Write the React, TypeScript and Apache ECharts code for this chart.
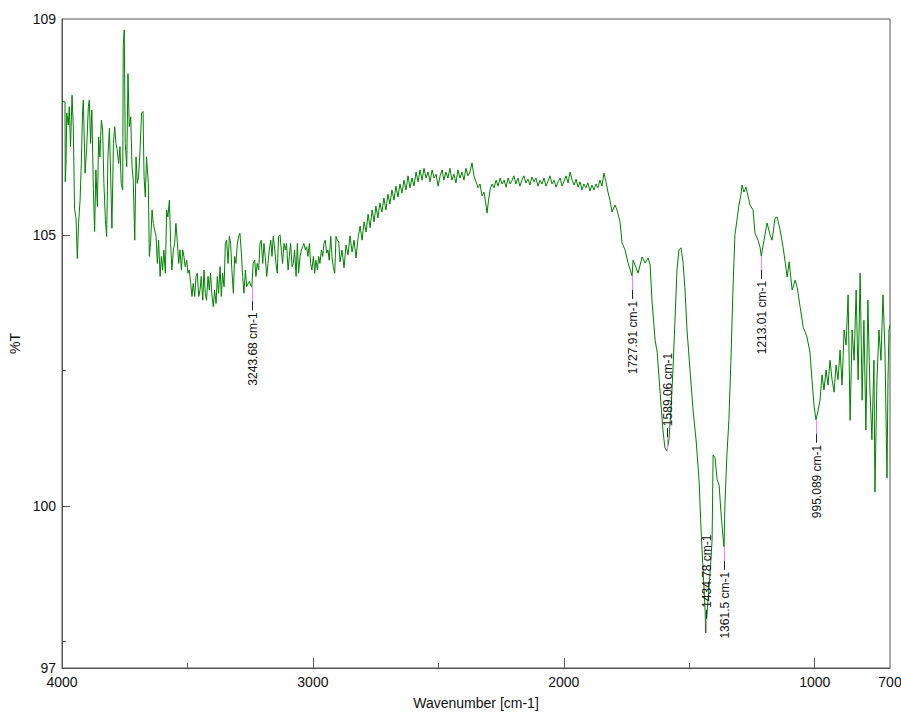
import { useEffect, useRef } from "react";
import * as echarts from "echarts";

const FONT = "'Liberation Sans', Arial, sans-serif";

const xTickLabels = [4000, 3000, 2000, 1000, 700];
const xMajorTicks = [4000, 3000, 2000, 1000];
const xMinorTicks = [3500, 2500, 1500];
const yTickLabels = [109, 105, 100, 97];
const yMajorTicks = [105, 100];
const yMinorTicks = [102.5, 97.5];

// [wavenumber cm-1, %T]
const spectrumHigh: [number, number][] = [
  [4000,107.47],[3988,107.47],[3987,105.99],[3984,106.33],[3981,107.26],[3975,107.04],[3971,107.38],[3966,106.64],[3960,107.59],[3955,107.01],[3950,105.50],[3944,105.31],[3939,104.57],[3934,105.22],[3928,105.65],[3923,106.33],[3918,107.29],[3915,107.50],[3908,106.15],[3902,106.58],[3895,107.38],[3891,107.50],[3886,106.70],[3881,107.32],[3875,105.84],[3870,105.07],[3865,106.21],[3859,105.53],[3854,106.82],[3849,106.45],[3843,107.13],[3838,106.95],[3833,105.96],[3827,105.28],[3822,104.98],[3817,106.45],[3811,106.98],[3806,106.08],[3801,105.13],[3795,106.70],[3790,107.01],[3785,106.70],[3780,106.58],[3774,106.33],[3769,106.64],[3764,105.96],[3758,105.84],[3756,108.49],[3752,108.80],[3748,106.70],[3742,106.27],[3737,107.99],[3732,107.01],[3726,107.19],[3721,106.27],[3716,106.02],[3710,104.91],[3705,106.45],[3700,105.96],[3695,106.08],[3689,106.58],[3683,107.26],[3677,107.29],[3673,106.08],[3668,105.71],[3663,106.45],[3656,105.96],[3652,104.61],[3647,104.85],[3641,105.47],[3636,105.22],[3631,105.10],[3625,104.98],[3620,104.48],[3615,104.91],[3609,104.24],[3604,104.61],[3599,104.36],[3594,104.73],[3588,104.30],[3583,105.47],[3578,105.34],[3572,105.65],[3567,104.85],[3562,104.36],[3556,104.73],[3551,104.85],[3546,105.22],[3540,104.85],[3535,104.48],[3530,104.73],[3524,104.36],[3519,104.73],[3514,104.61],[3509,104.42],[3503,104.54],[3498,104.30],[3493,104.36],[3487,104.11],[3482,103.87],[3477,104.11],[3471,103.87],[3466,104.24],[3461,104.30],[3455,103.87],[3450,103.99],[3445,104.24],[3439,103.80],[3434,104.36],[3429,103.93],[3424,103.80],[3418,104.24],[3413,103.99],[3408,104.30],[3402,103.87],[3397,103.68],[3392,103.99],[3386,103.74],[3381,104.24],[3376,103.93],[3370,104.42],[3365,103.87],[3360,104.30],[3354,104.05],[3349,104.85],[3344,104.91],[3338,104.48],[3333,104.98],[3328,104.85],[3323,104.36],[3317,103.93],[3312,104.61],[3307,104.48],[3301,104.85],[3296,104.98],[3291,105.04],[3285,104.67],[3280,104.24],[3275,103.93],[3269,104.36],[3264,104.05],[3259,104.10],[3253,104.15],[3248,104.08],[3243.68,104.04],[3238,104.48],[3232,104.54],[3227,104.24],[3222,104.48],[3216,104.36],[3211,104.85],[3206,104.91],[3200,104.48],[3195,104.85],[3190,104.61],[3184,104.24],[3179,104.48],[3174,104.73],[3168,104.91],[3163,104.61],[3158,104.98],[3152,104.73],[3147,104.48],[3142,104.30],[3137,104.98],[3131,105.01],[3126,104.73],[3121,104.48],[3115,104.85],[3110,104.73],[3105,104.85],[3099,104.36],[3094,104.61],[3089,104.85],[3083,104.42],[3078,104.48],[3073,104.73],[3067,104.24],[3062,104.85],[3057,104.30],[3051,104.61],[3046,104.73],[3041,104.79],[3036,104.85],[3030,104.73],[3025,104.79],[3020,104.61],[3014,104.85],[3009,104.48],[3004,104.36],[2998,104.61],[2993,104.30],[2988,104.54],[2982,104.36],[2977,104.61],[2972,104.48],[2966,104.73],[2961,104.61],[2956,104.85],[2951,104.91],[2945,104.67],[2940,104.73],[2935,104.54],[2929,104.98],[2924,104.61],[2919,104.42],[2913,104.30],[2908,104.98],[2903,104.91],[2897,104.88],
];

const spectrumMid: [number, number][] = [
  [2892,104.51],[2884,104.73],[2876,104.40],[2868,104.82],[2860,104.64],[2852,104.99],[2844,104.69],[2836,104.91],[2828,104.58],[2820,104.95],[2812,105.17],[2804,104.91],[2796,105.25],[2788,105.06],[2780,105.39],[2772,105.14],[2764,105.47],[2756,105.25],[2749,105.54],[2741,105.32],[2733,105.60],[2725,105.43],[2717,105.69],[2709,105.47],[2701,105.76],[2693,105.58],[2685,105.84],[2677,105.65],[2669,105.91],[2661,105.71],[2653,105.95],[2645,105.78],[2637,106.02],[2629,105.84],[2621,106.10],[2613,105.88],[2605,106.06],[2597,105.91],[2589,106.17],[2581,105.99],[2573,106.21],[2565,106.02],[2557,106.24],[2549,106.06],[2541,106.17],[2533,105.99],[2525,106.21],[2517,106.06],[2509,106.13],[2501,105.91],[2493,106.10],[2485,106.21],[2478,106.02],[2470,106.17],[2462,106.06],[2454,106.24],[2446,106.02],[2438,106.13],[2430,105.97],[2422,106.21],[2414,106.06],[2406,106.17],[2398,106.02],[2390,106.24],[2382,106.10],[2374,106.17],[2366,106.34],[2358,106.10],[2350,105.99],[2342,105.88],[2334,105.95],[2326,105.73],[2318,105.80],[2310,105.56],[2306,105.41],[2300,105.65],[2294,105.84],[2286,105.95],[2278,105.88],[2270,106.02],[2262,105.91],[2254,106.06],[2246,105.95],[2238,106.02],[2230,105.89],[2222,106.06],[2214,105.95],[2206,106.02],[2199,106.10],[2191,105.95],[2183,106.06],[2175,105.91],[2167,106.02],[2159,106.10],[2151,105.97],[2143,106.04],[2135,105.93],[2127,106.08],[2119,105.99],[2111,106.06],[2103,105.91],[2095,106.02],[2087,105.95],[2079,106.06],[2071,105.91],[2063,106.00],[2055,106.10],[2047,105.95],[2039,106.02],[2031,105.89],[2023,105.99],[2015,106.06],[2007,105.91],[1999,106.00],[1991,106.10],[1983,105.97],[1975,106.17],[1967,106.02],[1959,105.93],[1951,106.04],[1943,105.89],[1935,105.99],[1928,105.84],[1920,105.95],[1912,105.88],[1904,105.97],[1896,105.82],[1888,105.93],[1880,105.84],[1872,105.95],[1864,105.88],[1856,106.02],[1848,105.91],[1840,106.15],[1832,105.99],[1824,105.80],[1816,105.65],[1808,105.43],[1796,105.56],[1788,105.47],[1776,105.25],[1768,104.86],[1756,104.73],[1744,104.49],[1727.91,104.25],[1724,104.54],[1712,104.40],[1704,104.30],[1688,104.60],[1676,104.49],[1664,104.58],[1656,104.45],
];

const spectrumLow: [number, number][] = [
  [1648,103.75],[1636,103.06],[1628,102.84],[1617,102.14],[1605,101.40],[1597,101.07],[1589.06,101.01],[1581,101.22],[1573,101.77],[1565,102.51],[1557,103.43],[1549,104.36],[1541,104.73],[1533,104.77],[1525,104.51],[1517,103.99],[1509,103.25],[1497,102.51],[1485,101.77],[1473,101.22],[1461,100.48],[1453,99.55],[1445,98.81],[1437,98.07],[1434.78,97.65],[1425,98.26],[1417,98.76],[1409,99.37],[1405,100.94],[1397,100.88],[1389,100.48],[1381,100.38],[1373,99.83],[1365,99.40],[1361.5,99.24],[1358,100.01],[1350,100.94],[1342,101.59],[1334,102.69],[1326,103.99],[1318,105.01],[1310,105.28],[1302,105.56],[1294,105.75],[1290,105.93],[1282,105.80],[1274,105.89],[1266,105.73],[1258,105.56],[1246,105.47],[1238,105.04],[1226,104.91],[1218,104.78],[1213.01,104.62],[1202,104.91],[1190,105.23],[1178,105.01],[1170,104.91],[1158,105.32],[1150,105.34],[1138,105.10],[1126,104.78],[1118,104.51],[1110,104.23],[1102,104.51],[1090,103.99],[1078,104.17],[1070,104.04],[1058,103.67],[1046,103.30],[1038,103.21],[1031,103.12],[1019,102.84],[1011,102.33],[1003,101.86],[995.089,101.59],[987,101.75],[979,101.95],[971,102.42],[963,102.14],[955,102.51],[947,102.23],[939,102.69],[931,102.33],[923,102.10],[915,102.60],[907,102.33],[899,102.88],[891,102.23],[883,103.25],[875,102.97],[867,103.90],[859,101.58],[851,103.25],[843,102.69],[835,103.99],[827,102.33],[819,104.30],[811,101.95],[804,103.43],[796,101.40],[788,103.80],[780,102.14],[772,101.22],[764,102.69],[760,100.25],[752,102.33],[744,103.25],[736,102.69],[728,103.90],[720,102.88],[712,100.51],[708,102.33],[704,103.25],[700,103.34],
];

const peakWavenumbers = [3243.68, 1727.91, 1589.06, 1434.78, 1361.5, 1213.01, 995.089];
const peakTransmittance = [104.04, 104.25, 101.01, 97.65, 99.24, 104.62, 101.59];
const peakLabelSide = ["below", "below", "above", "above", "below", "below", "below"];

export default function App() {
  const ref = useRef<HTMLDivElement>(null);
  useEffect(() => {
    if (!ref.current) return;
    const chart = echarts.init(ref.current, undefined, { renderer: "svg" });
    const axisColor = "#555";
    const labelStyle = { color: "#111", fontSize: 14, fontFamily: FONT };
    const spectrum = [...spectrumHigh, ...spectrumMid, ...spectrumLow];
    const peaks = peakWavenumbers.map((w, i) => [w, peakTransmittance[i], i]);
    const plain = (v: number) => String(v);

    chart.setOption({
      animation: false,
      backgroundColor: "#fff",
      grid: {
        left: 62, right: 11, top: 19, bottom: 45,
        outerBoundsMode: "none",
        containLabel: false,
        show: true, borderColor: axisColor, borderWidth: 1, backgroundColor: "transparent",
      },
      xAxis: [
        {
          type: "value", inverse: true, min: 700, max: 4000,
          name: "Wavenumber [cm-1]", nameLocation: "middle", nameGap: 28,
          nameTextStyle: { ...labelStyle },
          axisLine: { show: true, lineStyle: { color: axisColor } },
          axisTick: { show: true, inside: true, length: 10, customValues: xMajorTicks, lineStyle: { color: axisColor } },
          axisLabel: { ...labelStyle, margin: 7, customValues: xTickLabels, formatter: plain },
          splitLine: { show: false },
        },
        {
          type: "value", inverse: true, min: 700, max: 4000, position: "bottom",
          axisLine: { show: false },
          axisTick: { show: true, inside: true, length: 5, customValues: xMinorTicks, lineStyle: { color: axisColor } },
          axisLabel: { show: false },
          splitLine: { show: false },
        },
      ],
      yAxis: [
        {
          type: "value", min: 97, max: 109,
          name: "%T", nameLocation: "middle", nameGap: 37, nameRotate: 90,
          nameTextStyle: { ...labelStyle },
          axisLine: { show: true, lineStyle: { color: axisColor } },
          axisTick: { show: true, inside: true, length: 8, customValues: yMajorTicks, lineStyle: { color: axisColor } },
          axisLabel: { ...labelStyle, margin: 6, customValues: yTickLabels, formatter: plain },
          splitLine: { show: false },
        },
        {
          type: "value", min: 97, max: 109, position: "left",
          axisLine: { show: false },
          axisTick: { show: true, inside: true, length: 4, customValues: yMinorTicks, lineStyle: { color: axisColor } },
          axisLabel: { show: false },
          splitLine: { show: false },
        },
      ],
      series: [
        {
          type: "line", data: spectrum, showSymbol: false, symbol: "none", silent: true,
          lineStyle: { color: "#008000", width: 1 },
          xAxisIndex: 0, yAxisIndex: 0, z: 2,
        },
        {
          type: "custom", data: peaks, xAxisIndex: 0, yAxisIndex: 0, z: 3, silent: true,
          renderItem: (_params: any, api: any) => {
            const i = api.value(2);
            const p = api.coord([api.value(0), api.value(1)]);
            const dir = peakLabelSide[i] === "above" ? -1 : 1;
            const x = Math.round(p[0]) + 0.5;
            const y = p[1];
            return {
              type: "group",
              children: [
                { type: "line", shape: { x1: x, y1: y, x2: x, y2: y + dir * 14 }, style: { stroke: "#ff80ff", lineWidth: 1 } },
                { type: "line", shape: { x1: x, y1: y + dir * 14, x2: x, y2: y + dir * 23 }, style: { stroke: "#222", lineWidth: 1 } },
                {
                  type: "text", x: x, y: y + dir * 25, rotation: Math.PI / 2,
                  style: {
                    text: `${peakWavenumbers[i]} cm-1`, fill: "#111", fontSize: 12, fontFamily: FONT,
                    align: dir > 0 ? "right" : "left", verticalAlign: "middle",
                  },
                },
              ],
            };
          },
        },
      ],
    });
    return () => chart.dispose();
  }, []);
  return <div ref={ref} style={{ position: "fixed", left: 0, top: 0, width: 901, height: 713 }} />;
}
